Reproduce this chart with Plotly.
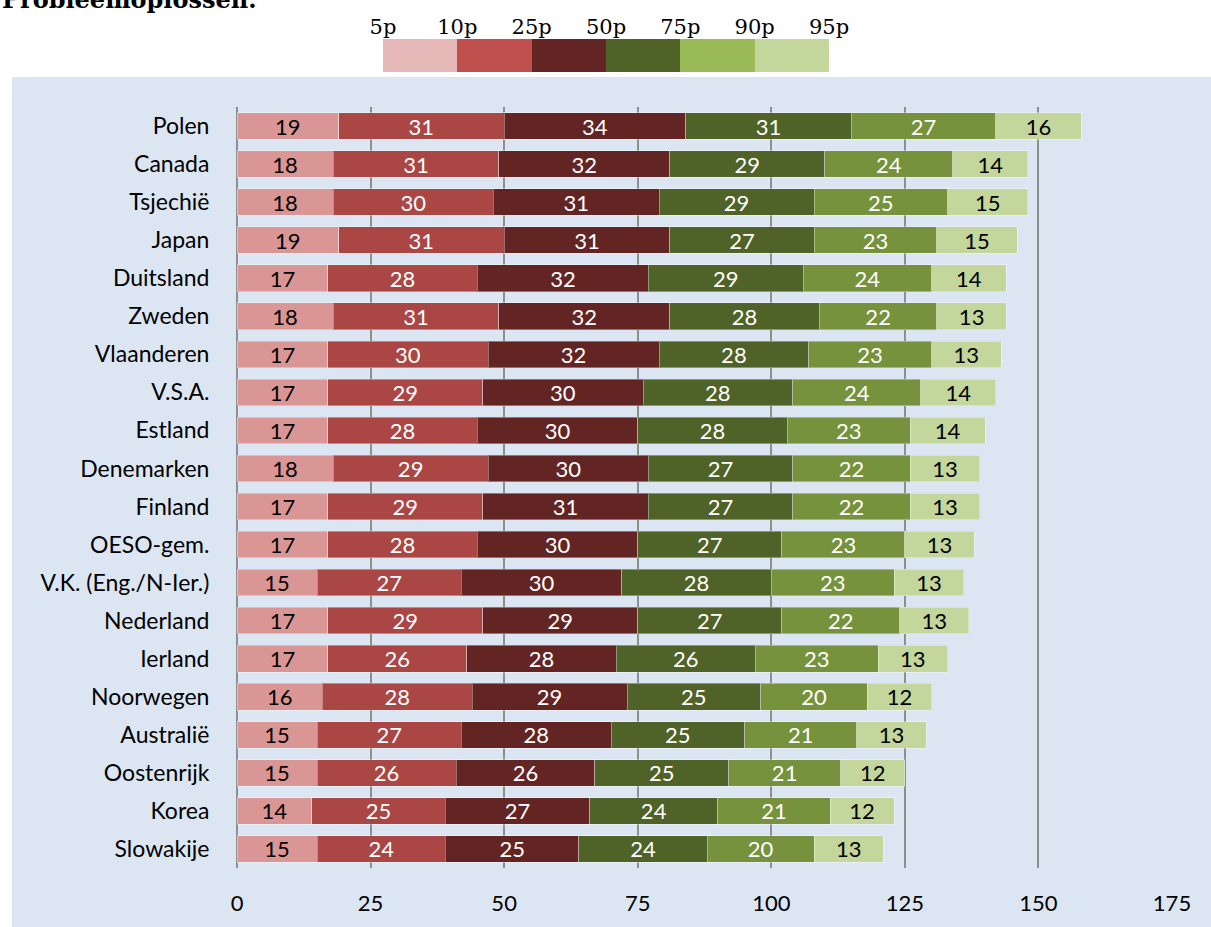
import plotly.graph_objects as go

# Landen van boven naar onder
landen = [
    "Polen", "Canada", "Tsjechië", "Japan", "Duitsland", "Zweden",
    "Vlaanderen", "V.S.A.", "Estland", "Denemarken", "Finland", "OESO-gem.",
    "V.K. (Eng./N-Ier.)", "Nederland", "Ierland", "Noorwegen", "Australië",
    "Oostenrijk", "Korea", "Slowakije",
]

# Breedte van elk percentielinterval per land
p5_10 = [19, 18, 18, 19, 17, 18, 17, 17, 17, 18, 17, 17, 15, 17, 17, 16, 15, 15, 14, 15]
p10_25 = [31, 31, 30, 31, 28, 31, 30, 29, 28, 29, 29, 28, 27, 29, 26, 28, 27, 26, 25, 24]
p25_50 = [34, 32, 31, 31, 32, 32, 32, 30, 30, 30, 31, 30, 30, 29, 28, 29, 28, 26, 27, 25]
p50_75 = [31, 29, 29, 27, 29, 28, 28, 28, 28, 27, 27, 27, 28, 27, 26, 25, 25, 25, 24, 24]
p75_90 = [27, 24, 25, 23, 24, 22, 23, 24, 23, 22, 22, 23, 23, 22, 23, 20, 21, 21, 21, 20]
p90_95 = [16, 14, 15, 15, 14, 13, 13, 14, 14, 13, 13, 13, 13, 13, 13, 12, 13, 12, 12, 13]

percentielen = ["5p", "10p", "25p", "50p", "75p", "90p", "95p"]
x_ticks = [0, 25, 50, 75, 100, 125, 150, 175]

series = [p5_10, p10_25, p25_50, p50_75, p75_90, p90_95]
bar_colors = ["#da9694", "#aa4644", "#632523", "#4f6228", "#76923c", "#c3d69b"]
legend_colors = ["#e6b9b8", "#c0504d", "#632523", "#4f6228", "#9bbb59", "#c3d69b"]
text_colors = ["black", "white", "white", "white", "white", "black"]

W, H = 1211, 927
FONT = "Lato, 'Open Sans', sans-serif"
SERIF = "'DejaVu Serif', 'Liberation Serif', serif"

fig = go.Figure()

# Hoofdgrafiek: gestapelde horizontale balken
for vals, col, tcol in zip(series, bar_colors, text_colors):
    fig.add_trace(go.Bar(
        y=landen, x=vals, orientation="h",
        marker=dict(color=col, line=dict(color="rgba(255,255,255,0.35)", width=1)),
        text=[str(v) for v in vals], textposition="inside",
        insidetextanchor="middle", textangle=0, constraintext="none",
        textfont=dict(family=FONT, size=22, color=tcol),
        showlegend=False, hoverinfo="skip",
        xaxis="x", yaxis="y",
    ))

# Kleurenbalk bovenaan met de percentielgrenzen
for i, col in enumerate(legend_colors):
    fig.add_trace(go.Bar(
        y=["legenda"], x=[1], orientation="h",
        marker=dict(color=col, line=dict(width=0)),
        showlegend=False, hoverinfo="skip",
        xaxis="x2", yaxis="y2",
    ))

fig.update_layout(
    width=W, height=H,
    barmode="stack", bargap=0.3,
    margin=dict(l=0, r=0, t=0, b=0),
    paper_bgcolor="white",
    plot_bgcolor="rgba(0,0,0,0)",
    font=dict(family=FONT, color="black"),
    xaxis=dict(
        domain=[237 / W, 1172 / W], range=[0, 175],
        tickvals=x_ticks, ticktext=[str(t) for t in x_ticks],
        showgrid=True, gridcolor="#8e8e8e", gridwidth=2,
        zeroline=True, zerolinecolor="#8e8e8e", zerolinewidth=2,
        showline=False,
        ticks="outside", ticklen=16, tickcolor="rgba(0,0,0,0)",
        tickfont=dict(family=FONT, size=22, color="black"),
        automargin=False, fixedrange=True,
    ),
    yaxis=dict(
        domain=[1 - 868 / H, 1 - 107 / H],
        type="category", categoryorder="array", categoryarray=landen,
        range=[len(landen) - 0.5, -0.5],
        showgrid=False, zeroline=False, showline=False,
        ticks="outside", ticklen=22, tickcolor="rgba(0,0,0,0)",
        tickfont=dict(family=FONT, size=23, color="black"),
        automargin=False, fixedrange=True,
    ),
    xaxis2=dict(
        domain=[383 / W, 829 / W], range=[0, 6], anchor="y2", side="top",
        tickvals=list(range(7)), ticktext=percentielen,
        showgrid=False, zeroline=False, showline=False, ticks="",
        tickfont=dict(family=SERIF, size=21, color="black"),
        automargin=False, fixedrange=True,
    ),
    yaxis2=dict(
        domain=[1 - 72 / H, 1 - 39 / H], range=[-0.35, 0.35], anchor="x2",
        showticklabels=False, showgrid=False, zeroline=False, showline=False,
        automargin=False, fixedrange=True,
    ),
    shapes=[dict(
        type="rect", xref="paper", yref="paper",
        x0=12 / W, x1=1, y0=0, y1=1 - 77 / H,
        fillcolor="#dce6f2", line=dict(width=0), layer="below",
    )],
    annotations=[dict(
        text="<b>Probleemoplossen.</b>", xref="paper", yref="paper",
        x=0, y=1 - 16 / H, xanchor="left", yanchor="bottom", showarrow=False,
        font=dict(family=SERIF, size=24, color="black"),
    )],
)

fig.write_html("out.html")
